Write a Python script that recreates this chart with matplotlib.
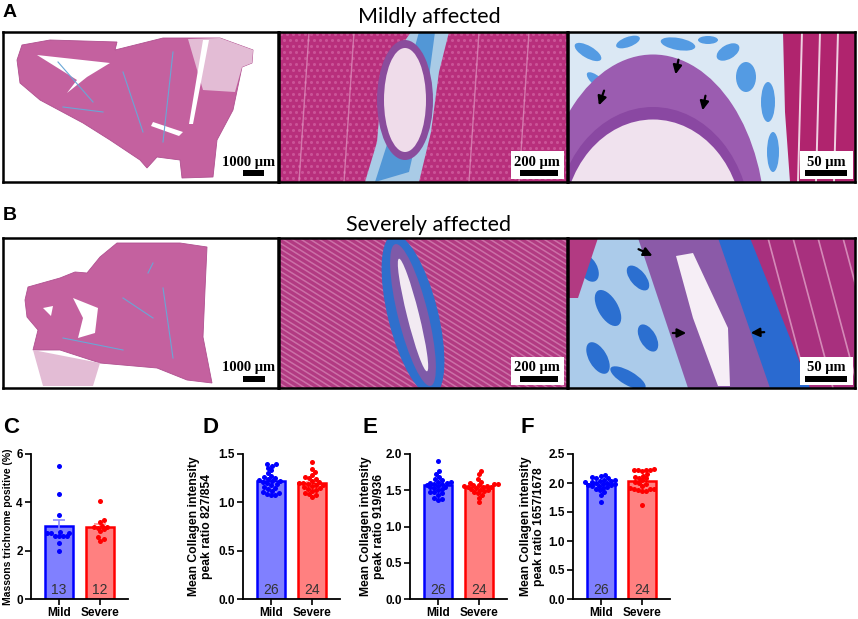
import numpy as np
import matplotlib.pyplot as plt
from matplotlib.patches import Polygon, Ellipse, Rectangle

plt.rcParams['font.family'] = ['Liberation Sans', 'DejaVu Sans']

# ---- data ----
groups = ['Mild', 'Severe']

c_mild = [5.5, 4.35, 3.48, 2.78, 2.75, 2.75, 2.72, 2.62, 2.62, 2.62, 2.62, 2.32, 2.0]
c_severe = [4.07, 3.28, 3.18, 3.02, 3.0, 2.98, 2.95, 2.88, 2.82, 2.55, 2.48, 2.4]

d_mild = [1.40, 1.40, 1.38, 1.36, 1.33, 1.30, 1.27, 1.26, 1.25, 1.24, 1.23, 1.22, 1.22,
          1.21, 1.20, 1.19, 1.18, 1.16, 1.15, 1.14, 1.12, 1.11, 1.10, 1.09, 1.08, 1.08]
d_severe = [1.42, 1.34, 1.31, 1.28, 1.26, 1.25, 1.24, 1.22, 1.21, 1.20, 1.20, 1.19,
            1.18, 1.18, 1.17, 1.16, 1.15, 1.14, 1.13, 1.12, 1.10, 1.09, 1.08, 1.06]

e_mild = [1.90, 1.76, 1.72, 1.68, 1.66, 1.64, 1.62, 1.61, 1.60, 1.60, 1.59, 1.58, 1.57,
          1.56, 1.55, 1.54, 1.53, 1.52, 1.50, 1.48, 1.47, 1.46, 1.44, 1.40, 1.38, 1.37]
e_severe = [1.77, 1.72, 1.66, 1.62, 1.60, 1.59, 1.58, 1.57, 1.57, 1.56, 1.56, 1.55,
            1.55, 1.54, 1.53, 1.52, 1.51, 1.50, 1.49, 1.48, 1.46, 1.44, 1.40, 1.34]

f_mild = [2.14, 2.12, 2.10, 2.09, 2.08, 2.06, 2.05, 2.04, 2.03, 2.02, 2.01, 2.00, 2.00,
          1.99, 1.98, 1.97, 1.96, 1.95, 1.94, 1.93, 1.92, 1.90, 1.88, 1.85, 1.80, 1.68]
f_severe = [2.24, 2.23, 2.23, 2.22, 2.22, 2.21, 2.15, 2.12, 2.10, 2.09, 2.08, 2.05,
            2.02, 2.00, 1.98, 1.95, 1.92, 1.90, 1.90, 1.89, 1.88, 1.87, 1.86, 1.62]

c_ticks = [0, 2, 4, 6]
d_ticks = [0.0, 0.5, 1.0, 1.5]
e_ticks = [0.0, 0.5, 1.0, 1.5, 2.0]
f_ticks = [0.0, 0.5, 1.0, 1.5, 2.0, 2.5]

c_label = 'Massons trichrome positive (%)'
d_label = 'Mean Collagen intensity\npeak ratio 827/854'
e_label = 'Mean Collagen intensity\npeak ratio 919/936'
f_label = 'Mean Collagen intensity\npeak ratio 1657/1678'

W, H = 858, 619
fig = plt.figure(figsize=(W / 100, H / 100), dpi=100)


def px_axes(x0, y0, x1, y1):
    return fig.add_axes([x0 / W, 1 - y1 / H, (x1 - x0) / W, (y1 - y0) / H])


def img_axes(x0, y0, x1, y1, bg):
    ax = px_axes(x0, y0, x1, y1)
    w, h = x1 - x0, y1 - y0
    ax.set_xlim(0, w)
    ax.set_ylim(h, 0)
    ax.set_facecolor(bg)
    ax.set_xticks([])
    ax.set_yticks([])
    for s in ax.spines.values():
        s.set_linewidth(1.8)
        s.set_color('black')
        s.set_zorder(10)
    return ax, w, h


def scale_bar(ax, label, boxed, x_txt, x0, x1):
    if boxed:
        ax.add_patch(Rectangle((232, 119), 53, 28, fc='white', ec='none', zorder=6))
    ax.text(x_txt, 130, label, ha='center', va='center', family='Liberation Serif',
            weight='bold', fontsize=10.5, zorder=7)
    ax.add_patch(Rectangle((x0, 138), x1 - x0, 6, fc='black', ec='none', zorder=7))


def arrow(ax, tail, tip):
    ax.annotate('', xy=tip, xytext=tail,
                arrowprops=dict(arrowstyle='-|>', color='black', lw=1.6,
                                mutation_scale=13), zorder=8)


def cell_texture(ax, w, h, color, step=6, size=5):
    xs, ys = np.meshgrid(np.arange(2, w, step), np.arange(2, h, step))
    xs = xs + (np.arange(xs.shape[0])[:, None] % 2) * step / 2
    ax.scatter(xs.ravel(), ys.ravel(), s=size, c=color, linewidths=0, alpha=0.45, zorder=1)


def section_low(ax, outline, holes, pale):
    ax.add_patch(Polygon(outline, fc='#c4619f', ec='#b05090', lw=0.6, zorder=2))
    for p in pale:
        ax.add_patch(Polygon(p, fc='#e3bcd5', ec='none', zorder=3))
    for p in holes:
        ax.add_patch(Polygon(p, fc='white', ec='none', zorder=3))


rows = [(32, 182), (238, 388)]
cols = [(3, 278), (279, 567), (568, 855)]

# ---- A: mildly affected ----
ax, w, h = img_axes(cols[0][0], rows[0][0], cols[0][1], rows[0][1], 'white')
a1_outline = [(19, 13), (47, 8), (114, 10), (112, 18), (160, 6), (217, 6), (250, 18), (249, 31),
              (239, 35), (230, 78), (214, 108), (210, 145), (179, 146), (177, 128), (154, 125),
              (144, 136), (137, 128), (107, 108), (80, 91), (37, 68), (17, 51), (14, 28)]
a1_holes = [[(34, 23), (107, 31), (84, 45), (64, 61), (74, 48)],
            [(200, 8), (206, 8), (190, 92), (186, 92)],
            [(150, 90), (180, 100), (176, 104), (148, 94)]]
a1_pale = [[(185, 7), (217, 6), (250, 18), (249, 31), (239, 35), (232, 60), (200, 58)]]
section_low(ax, a1_outline, a1_holes, a1_pale)
for xa, ya, xb, yb in [(55, 30, 90, 70), (120, 40, 140, 100), (170, 20, 160, 110), (60, 75, 100, 80)]:
    ax.plot([xa, xb], [ya, yb], color='#6aa6d6', lw=0.8, zorder=4)
scale_bar(ax, '1000 μm', False, 246, 240, 261)

ax, w, h = img_axes(cols[1][0], rows[0][0], cols[1][1], rows[0][1], '#b82f7c')
cell_texture(ax, w, h, '#e080b8')
for xl in [30, 75, 200, 250]:
    ax.plot([xl, xl - 10], [0, 150], color='#e6a6cc', lw=1.0, alpha=0.6, zorder=1)
ax.add_patch(Polygon([(132, 0), (170, 0), (160, 40), (152, 100), (140, 150), (86, 150),
                      (98, 110), (104, 40)], fc='#a9cbe6', ec='none', zorder=2))
ax.add_patch(Polygon([(140, 0), (156, 0), (148, 60), (130, 140), (96, 150), (112, 100)],
                     fc='#3d8ad2', ec='none', zorder=3, alpha=0.8))
ax.add_patch(Ellipse((126, 68), 56, 120, fc='#8a4c9c', ec='none', zorder=4))
ax.add_patch(Ellipse((126, 68), 42, 104, fc='#efdcea', ec='none', zorder=5))
scale_bar(ax, '200 μm', True, 258, 241, 279)

ax, w, h = img_axes(cols[2][0], rows[0][0], cols[2][1], rows[0][1], '#dbe8f4')
for cx, cy, ew, eh, ang in [(20, 20, 30, 12, 30), (60, 10, 25, 10, -20), (110, 12, 35, 12, 10),
                            (160, 20, 25, 14, -30), (178, 45, 20, 30, 0), (30, 50, 28, 10, 40),
                            (200, 70, 14, 40, 0), (205, 120, 12, 40, 0), (140, 8, 20, 8, 0)]:
    ax.add_patch(Ellipse((cx, cy), ew, eh, angle=ang, fc='#3c8ee0', ec='none', alpha=0.85, zorder=1))
ax.add_patch(Polygon([(215, 0), (287, 0), (287, 150), (222, 150), (217, 80)],
                     fc='#b0246e', ec='none', zorder=2))
for xl in [234, 252, 270]:
    ax.plot([xl, xl - 4], [0, 150], color='white', lw=1.4, alpha=0.8, zorder=3)
ax.add_patch(Ellipse((85, 195), 225, 345, fc='#9b5cb0', ec='none', zorder=4))
ax.add_patch(Ellipse((85, 195), 196, 240, fc='#8a48a2', ec='none', zorder=4))
ax.add_patch(Ellipse((85, 195), 180, 215, fc='#f0e2ee', ec='none', zorder=5))
arrow(ax, (37, 56), (30, 76))
arrow(ax, (111, 25), (107, 45))
arrow(ax, (138, 61), (134, 81))
scale_bar(ax, '50 μm', True, 258, 237, 279)

# ---- B: severely affected ----
ax, w, h = img_axes(cols[0][0], rows[1][0], cols[0][1], rows[1][1], 'white')
b1_outline = [(25, 49), (57, 40), (72, 34), (84, 35), (97, 19), (114, 5), (177, 5), (204, 9),
              (202, 52), (200, 99), (209, 145), (184, 142), (154, 130), (97, 125), (57, 112),
              (30, 112), (35, 92), (24, 79), (22, 62)]
b1_holes = [[(70, 60), (95, 70), (92, 95), (75, 100), (80, 80)],
            [(40, 70), (50, 68), (48, 78)]]
b1_pale = [[(30, 112), (97, 125), (90, 148), (40, 148)]]
section_low(ax, b1_outline, b1_holes, b1_pale)
for xa, ya, xb, yb in [(150, 25, 145, 35), (120, 60, 150, 80), (160, 50, 170, 120), (60, 100, 120, 112)]:
    ax.plot([xa, xb], [ya, yb], color='#6aa6d6', lw=0.8, zorder=4)
scale_bar(ax, '1000 μm', False, 246, 240, 262)

ax, w, h = img_axes(cols[1][0], rows[1][0], cols[1][1], rows[1][1], '#b23a82')
for xs in np.arange(-250, 290, 9):
    ax.plot([xs, xs + 240], [0, 150], color='#e6a6cc', lw=1.1, alpha=0.5, zorder=1)
ax.add_patch(Ellipse((134, 77), 165, 50, angle=76, fc='#2f6fcc', ec='none', zorder=3))
ax.add_patch(Ellipse((134, 77), 146, 30, angle=76, fc='#7f5aa8', ec='none', zorder=4))
ax.add_patch(Ellipse((134, 77), 116, 12, angle=76, fc='#f2eaf2', ec='none', zorder=5))
scale_bar(ax, '200 μm', True, 258, 241, 279)

ax, w, h = img_axes(cols[2][0], rows[1][0], cols[2][1], rows[1][1], '#abcbea')
for cx, cy, ew, eh, ang in [(20, 30, 30, 18, 60), (40, 70, 40, 20, 60), (70, 40, 30, 15, 50),
                            (30, 120, 35, 18, 60), (80, 100, 30, 16, 60), (100, 60, 25, 14, 60),
                            (60, 140, 40, 14, 30)]:
    ax.add_patch(Ellipse((cx, cy), ew, eh, angle=ang, fc='#2b6fd0', ec='none', zorder=1))
ax.add_patch(Polygon([(0, 0), (30, 0), (10, 60), (0, 60)], fc='#b23a82', ec='none', zorder=2))
ax.add_patch(Polygon([(170, 0), (287, 0), (287, 150), (225, 150)], fc='#a8307e', ec='none', zorder=2))
for xs in [200, 225, 250, 275]:
    ax.plot([xs, xs + 40], [0, 150], color='#e8b0d0', lw=1.2, alpha=0.7, zorder=3)
ax.add_patch(Polygon([(140, 0), (182, 0), (242, 150), (200, 150)], fc='#2a6ad0', ec='none', zorder=3))
ax.add_patch(Polygon([(70, 0), (150, 0), (202, 150), (120, 150)], fc='#8b5aa8', ec='none', zorder=4))
ax.add_patch(Polygon([(108, 18), (125, 15), (160, 90), (162, 148), (150, 148), (125, 80)],
                     fc='#f6eef6', ec='none', zorder=5))
arrow(ax, (68, 10), (87, 19))
arrow(ax, (102, 95), (121, 95))
arrow(ax, (199, 94), (180, 95))
scale_bar(ax, '50 μm', True, 258, 237, 279)

fig.text(3 / W, 1 - 4 / H, 'A', fontsize=14, weight='bold', va='top')
fig.text(3 / W, 1 - 207 / H, 'B', fontsize=14, weight='bold', va='top')
fig.text(429 / W, 1 - 23 / H, 'Mildly affected', fontsize=15.5, family='Lato', ha='center', va='baseline')
fig.text(429 / W, 1 - 231 / H, 'Severely affected', fontsize=15.5, family='Lato', ha='center', va='baseline')


# ---- C-F: bar charts ----
def swarm_offsets(vals, ppu, dot=4.0, ppx=41.0):
    vals = np.asarray(vals)
    offs = np.zeros(len(vals))
    placed = []
    for idx in np.argsort(vals):
        y = vals[idx] * ppu
        for k in range(60):
            cands = [0.0] if k == 0 else [k * 0.5, -k * 0.5]
            ok = None
            for c in cands:
                if all((c - px) ** 2 + (y - py) ** 2 >= dot ** 2 for px, py in placed):
                    ok = c
                    break
            if ok is not None:
                break
        placed.append((ok, y))
        offs[idx] = ok / ppx
    return offs


bar_style = [('#8080ff', '#0000ff', '#8c8cff'), ('#ff8080', '#ff0000', '#ff8c8c')]


def bar_panel(x0, mild, severe, ticks, ylabel, lab_x, lab_size, fmt):
    ax = px_axes(x0, 454, x0 + 97, 599)
    ymax = ticks[-1]
    ppu = 145 / ymax
    for i, vals in enumerate([mild, severe]):
        face, edge, err = bar_style[i]
        m = np.mean(vals)
        sem = np.std(vals, ddof=1) / np.sqrt(len(vals))
        ax.bar(i, m, width=0.68, color=face, edgecolor=edge, linewidth=1.8, zorder=1)
        ax.errorbar(i, m, yerr=sem, color=err, capsize=4, lw=1.2, capthick=1.2, zorder=2)
        ax.scatter(i + swarm_offsets(vals, ppu), vals, s=13, color=edge, linewidths=0, zorder=3)
        ax.text(i, 0.015, str(len(vals)), transform=ax.get_xaxis_transform(),
                ha='center', va='bottom', fontsize=10, color='#333333', zorder=4)
    ax.set_xlim(-0.68, 1.68)
    ax.set_ylim(0, ymax)
    ax.set_yticks(ticks)
    ax.set_yticklabels([fmt.format(t) for t in ticks])
    ax.set_xticks([0, 1])
    ax.set_xticklabels(groups)
    for lbl in ax.get_xticklabels() + ax.get_yticklabels():
        lbl.set_fontweight('bold')
        lbl.set_fontsize(8.5)
    ax.tick_params(length=4, width=1.2, pad=2)
    ax.spines['top'].set_visible(False)
    ax.spines['right'].set_visible(False)
    ax.spines['left'].set_linewidth(1.3)
    ax.spines['bottom'].set_linewidth(1.3)
    ax.set_ylabel(ylabel, fontsize=lab_size, weight='bold', linespacing=1.05)
    ax.yaxis.set_label_coords(lab_x, 0.5)
    return ax


bar_panel(31, c_mild, c_severe, c_ticks, c_label, -0.19, 7.5, '{:d}')
bar_panel(243, d_mild, d_severe, d_ticks, d_label, -0.31, 8.7, '{:.1f}')
bar_panel(410, e_mild, e_severe, e_ticks, e_label, -0.26, 8.7, '{:.1f}')
bar_panel(573, f_mild, f_severe, f_ticks, f_label, -0.29, 8.7, '{:.1f}')

for letter, xl in [('C', 3), ('D', 203), ('E', 362), ('F', 520)]:
    fig.text(xl / W, 1 - 417 / H, letter, fontsize=16, weight='bold', va='top')

fig.savefig('out.png', dpi=100)
